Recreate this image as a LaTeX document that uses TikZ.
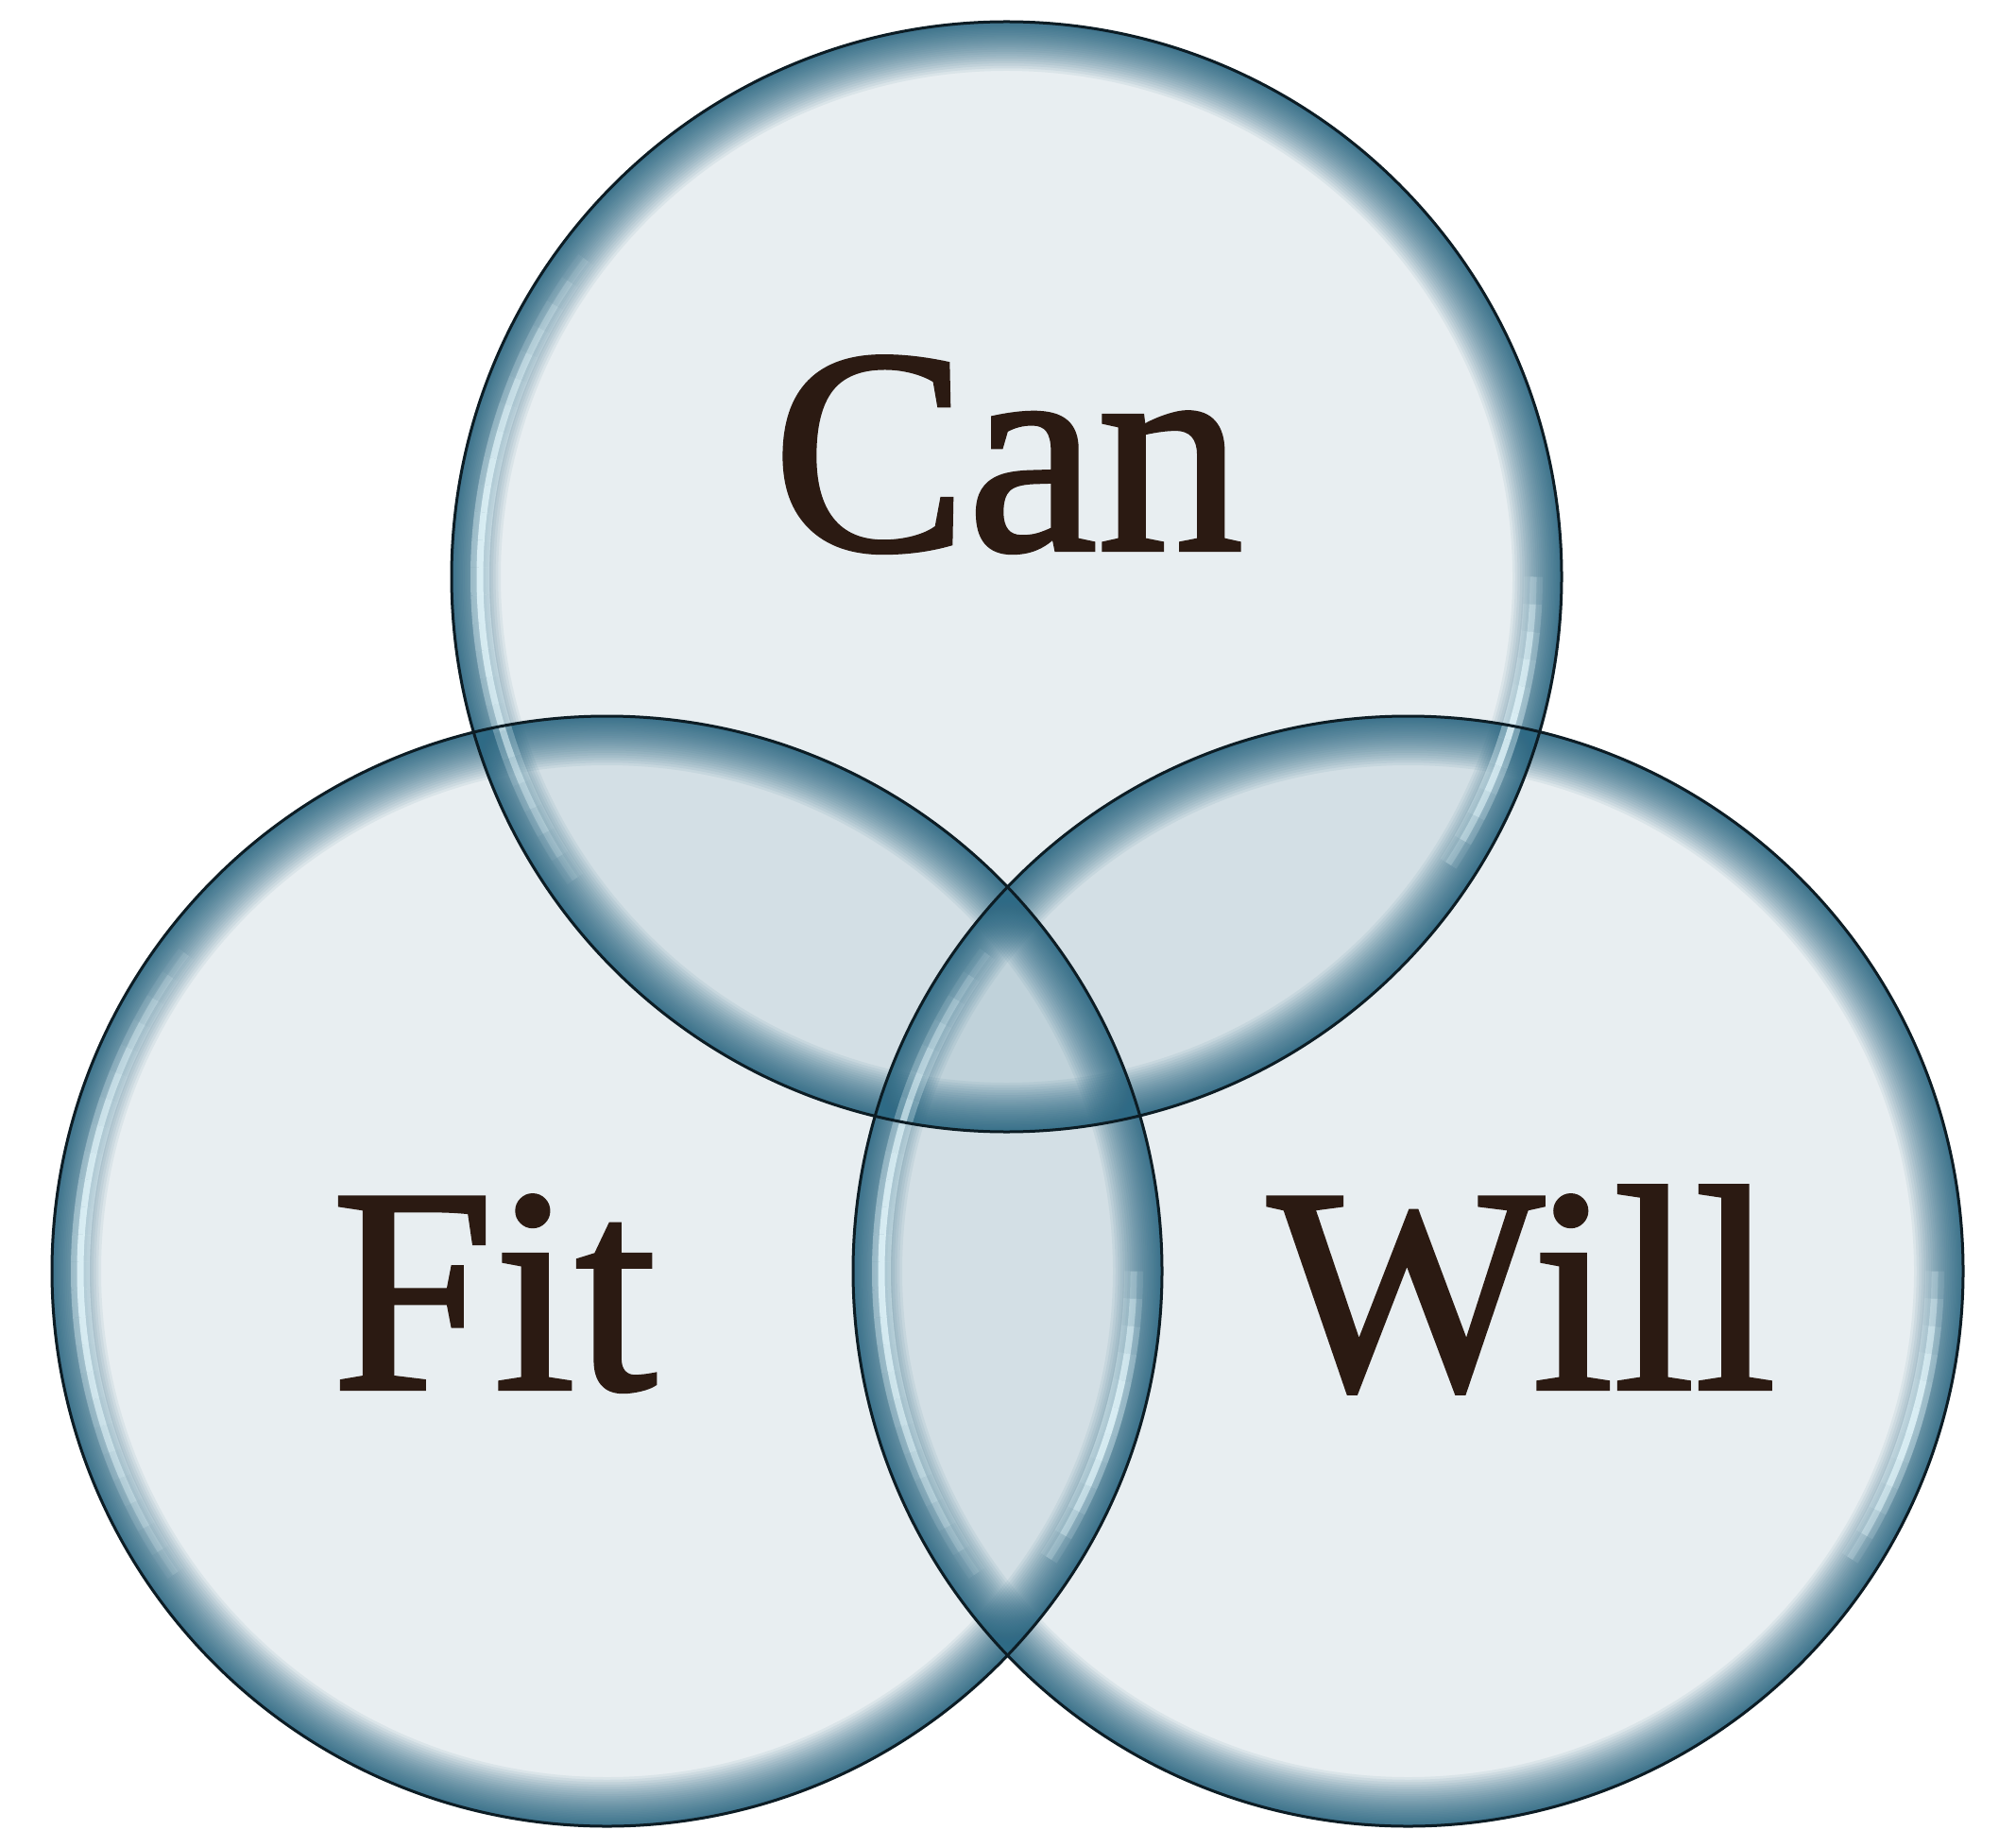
\documentclass[tikz,border=0pt]{standalone}
\usepackage{fontspec}
\newfontfamily\labelfont[FakeBold=1.4]{Liberation Serif}
\usetikzlibrary{positioning}

\definecolor{rimblue}{RGB}{46,106,133}
\definecolor{glint}{RGB}{228,247,252}
\definecolor{inkbrown}{RGB}{43,26,18}
\definecolor{edgeblack}{RGB}{12,28,36}

\begin{document}
\begin{tikzpicture}
			[bubble/.style={fill=rimblue, fill opacity=0.11},
			 outline/.style={draw=edgeblack, line width=0.03cm},
			 word/.style={anchor=base, inner sep=0pt, text=inkbrown, font=\labelfont\fontsize{88}{94}\selectfont},]
			\useasboundingbox (0,0) rectangle (21.34,-19.55);
			\fill[white] (0,0) rectangle (21.34,-19.55);
			\def\rad{5.875}
			\coordinate (Cc) at (10.655,-6.105);
			\coordinate (Fc) at (6.425,-13.455);
			\coordinate (Wc) at (14.905,-13.455);
			% glass discs
			\foreach \c in {Cc,Fc,Wc}
				\fill[bubble] (\c) circle[radius=\rad];
			% dark rim, stacked from the edge inwards
			\foreach \c in {Cc,Fc,Wc}
				\foreach \k in {1,...,30}{
					\pgfmathsetmacro\dep{0.52*(\k/30)^1.6}
					\draw[rimblue, draw opacity=0.075, line width=\dep cm] (\c) circle[radius={\rad-\dep/2}];
				}
			% light glints
			\foreach \c in {Cc,Fc,Wc}{
				\foreach \a in {140,143,...,212}{
					\pgfmathsetmacro\f{sin((\a-140)*2.4)}
					\draw[glint, draw opacity=0.4*\f, line width=0.2cm] (\c) ++(\a:\rad-0.3) arc[start angle=\a, end angle=\a+3, radius=\rad-0.3];
					\draw[glint, draw opacity=0.8*\f, line width=0.07cm] (\c) ++(\a:\rad-0.3) arc[start angle=\a, end angle=\a+3, radius=\rad-0.3];
				}
				\foreach \a in {-36,-33,...,-3}{
					\pgfmathsetmacro\f{sin((\a+36)*5)}
					\draw[glint, draw opacity=0.4*\f, line width=0.2cm] (\c) ++(\a:\rad-0.3) arc[start angle=\a, end angle=\a+3, radius=\rad-0.3];
					\draw[glint, draw opacity=0.8*\f, line width=0.07cm] (\c) ++(\a:\rad-0.3) arc[start angle=\a, end angle=\a+3, radius=\rad-0.3];
				}
			}
			\foreach \c in {Cc,Fc,Wc}
				\draw[outline] (\c) circle[radius=\rad];
			\node[word] (can) at (10.67,-5.82) {Can};
			\node[word] (fit) at (5.23,-14.70) {Fit};
			\node[word] (will) at (16.11,-14.70) {Will};
			\end{tikzpicture}
\end{document}
